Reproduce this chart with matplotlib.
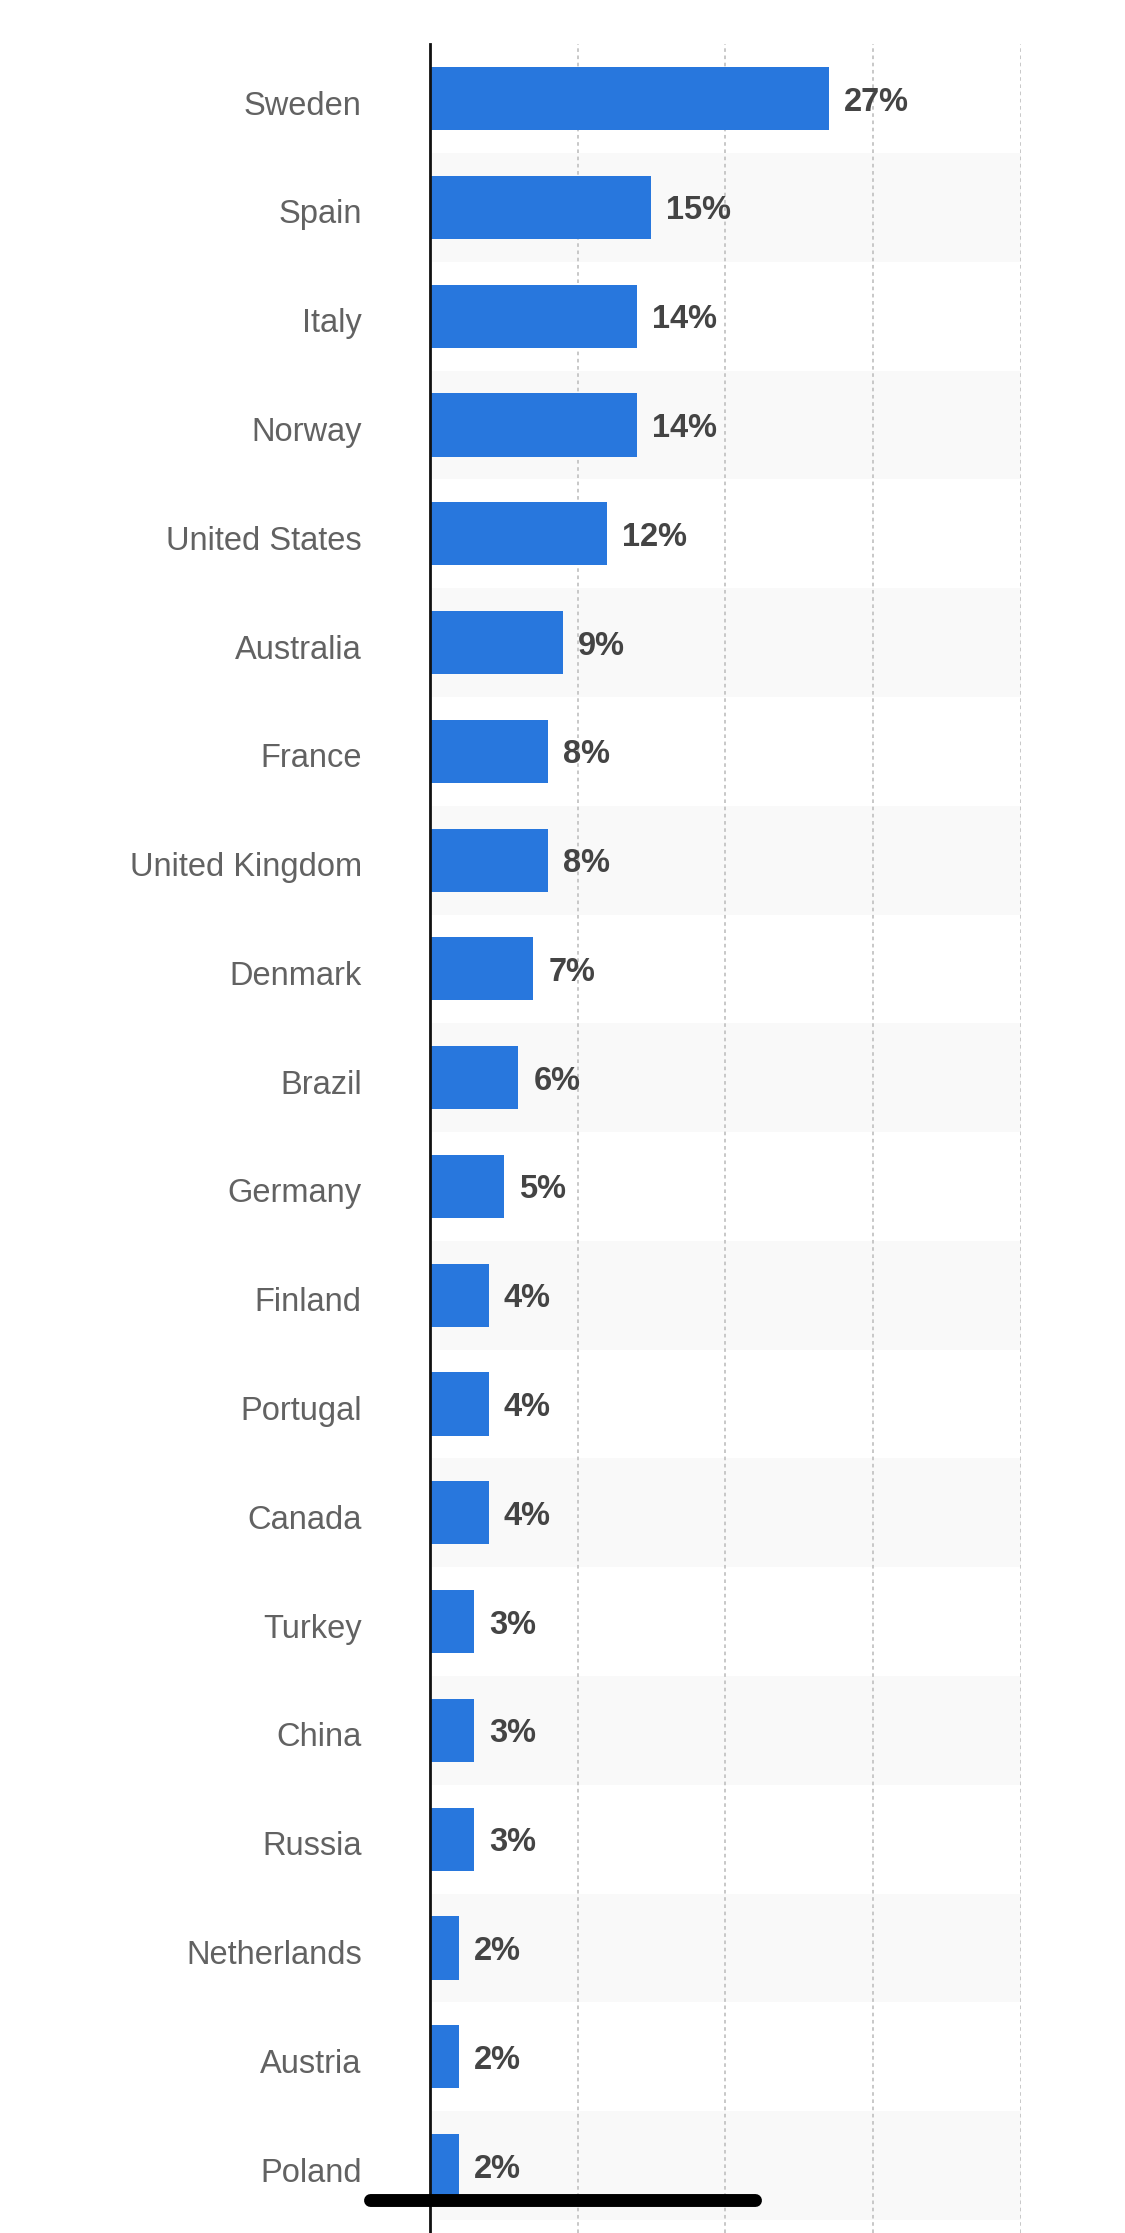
import matplotlib
matplotlib.use('Agg')
import matplotlib.pyplot as plt
from matplotlib.lines import Line2D
from matplotlib.transforms import ScaledTranslation

# data
countries = ['Sweden', 'Spain', 'Italy', 'Norway', 'United States', 'Australia',
             'France', 'United Kingdom', 'Denmark', 'Brazil', 'Germany', 'Finland',
             'Portugal', 'Canada', 'Turkey', 'China', 'Russia', 'Netherlands',
             'Austria', 'Poland']
shares = [27, 15, 14, 14, 12, 9, 8, 8, 7, 6, 5, 4, 4, 4, 3, 3, 3, 2, 2, 2]
grid_ticks = [10, 20, 30, 40]

plt.rcParams['font.family'] = ['Liberation Sans', 'DejaVu Sans']

fig = plt.figure(figsize=(11.25, 22.33), dpi=100)
ax = fig.add_axes([0.382, 0.0, 0.9076 - 0.382, 0.9802])

pos = list(range(len(countries)))

# alternating row bands
for i in pos:
    if i % 2 == 1:
        ax.axhspan(i - 0.5, i + 0.5, color='#f9f9f9', zorder=0, lw=0)

for x in grid_ticks:
    ax.axvline(x, color='#c4c4c4', lw=1.3, ls=(0, (2, 2)), zorder=1)

ax.barh(pos, shares, height=0.58, color='#2877dd', zorder=2)

for i, v in enumerate(shares):
    ax.annotate(f'{v}%', (v, i), xytext=(15, 0), textcoords='offset pixels',
                va='center_baseline', ha='left', fontsize=23.5, fontweight='bold',
                color='#444444')

ax.set_yticks(pos)
ax.set_yticklabels(countries, fontsize=23.5, color='#626262')
ax.tick_params(axis='y', length=0, pad=68 * 72 / 100)
# country names sit a little below the bar centre in the reference
shift = ScaledTranslation(0, -4 / 100, fig.dpi_scale_trans)
for lbl in ax.get_yticklabels():
    lbl.set_transform(lbl.get_transform() + shift)
ax.set_xticks([])
ax.set_xlim(0, 40)
ax.set_ylim(19.62, -0.5)

for s in ['top', 'right', 'bottom']:
    ax.spines[s].set_visible(False)
ax.spines['left'].set_color('#111111')
ax.spines['left'].set_linewidth(2)
ax.spines['left'].set_zorder(3)

# phone home indicator at the bottom of the screenshot
fig.add_artist(Line2D([0.3286, 0.6714], [0.0147, 0.0147], color='black', lw=9.3,
                      solid_capstyle='round', transform=fig.transFigure, zorder=5))

fig.savefig('out.png', dpi=100, facecolor='white')
